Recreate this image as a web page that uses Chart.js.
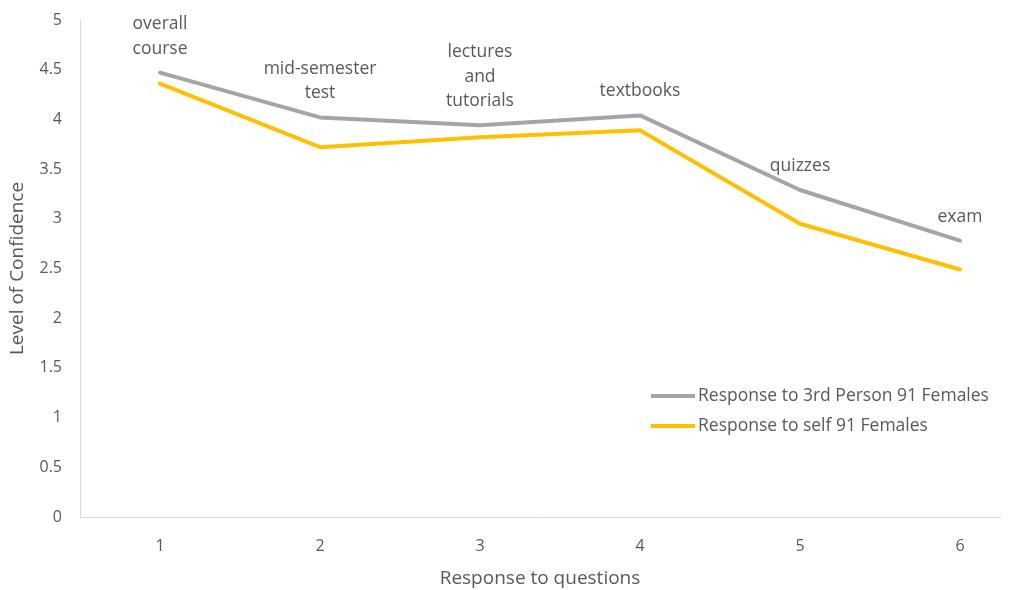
<!DOCTYPE html>
<html>
<head>
<meta charset="utf-8">
<script src="https://cdn.jsdelivr.net/npm/chart.js@4/dist/chart.umd.min.js"></script>
<style>
  html, body { margin: 0; padding: 0; background: #ffffff; }
  #wrap { width: 1011px; height: 590px; position: relative; }
</style>
</head>
<body>
<div id="wrap"><canvas id="c" width="1011" height="590"></canvas></div>
<script>
// Question number on the x axis
const questions = [1, 2, 3, 4, 5, 6];
// Labels written above each question's point
const questionLabels = [
  ["overall", "course"],
  ["mid-semester", "test"],
  ["lectures", "and", "tutorials"],
  ["textbooks"],
  ["quizzes"],
  ["exam"]
];
const thirdPersonFemales = [4.47, 4.02, 3.94, 4.04, 3.29, 2.78];
const selfFemales = [4.36, 3.72, 3.82, 3.89, 2.95, 2.49];
const yTicks = [0, 0.5, 1, 1.5, 2, 2.5, 3, 3.5, 4, 4.5, 5];
const yTickLabels = ["0", "0.5", "1", "1.5", "2", "2.5", "3", "3.5", "4", "4.5", "5"];

const seriesNames = ["Response to 3rd Person 91 Females", "Response to self 91 Females"];
const FONT = "'Open Sans', Lato, sans-serif";
const TEXT = "#595959";

const toPoints = vals => vals.map((v, i) => ({ x: questions[i], y: v }));

// Text labels above the upper series
const pointLabels = {
  id: "pointLabels",
  afterDatasetsDraw(chart) {
    const ctx = chart.ctx;
    const meta = chart.getDatasetMeta(0);
    ctx.save();
    ctx.font = "17.5px " + FONT;
    ctx.fillStyle = TEXT;
    ctx.textAlign = "center";
    ctx.textBaseline = "alphabetic";
    const lh = 24.5;
    meta.data.forEach((pt, i) => {
      const lines = questionLabels[i];
      const baseY = pt.y - 19;
      for (let k = 0; k < lines.length; k++) {
        const y = baseY - (lines.length - 1 - k) * lh;
        ctx.fillText(lines[k], pt.x, y);
      }
    });
    ctx.restore();
  }
};

// Legend drawn inside the plot area
const innerLegend = {
  id: "innerLegend",
  afterDraw(chart) {
    const ctx = chart.ctx;
    ctx.save();
    ctx.font = "17.5px " + FONT;
    ctx.fillStyle = TEXT;
    ctx.textBaseline = "middle";
    chart.data.datasets.forEach((ds, i) => {
      const y = 396 + i * 30;
      ctx.strokeStyle = ds.borderColor;
      ctx.lineWidth = 4;
      ctx.beginPath();
      ctx.moveTo(651, y);
      ctx.lineTo(695, y);
      ctx.stroke();
      ctx.fillText(ds.label, 698, y);
    });
    ctx.restore();
  }
};

new Chart(document.getElementById("c"), {
  type: "line",
  data: {
    datasets: [
      {
        label: seriesNames[0],
        data: toPoints(thirdPersonFemales),
        borderColor: "#A5A5A5",
        backgroundColor: "#A5A5A5",
        borderWidth: 4,
        pointRadius: 0,
        tension: 0,
        borderJoinStyle: "round",
        borderCapStyle: "round"
      },
      {
        label: seriesNames[1],
        data: toPoints(selfFemales),
        borderColor: "#FFC000",
        backgroundColor: "#FFC000",
        borderWidth: 4,
        pointRadius: 0,
        tension: 0,
        borderJoinStyle: "round",
        borderCapStyle: "round"
      }
    ]
  },
  options: {
    responsive: false,
    animation: false,
    layout: { padding: { top: 20, right: 11, left: 0, bottom: 0 } },
    plugins: {
      legend: { display: false },
      tooltip: { enabled: false }
    },
    scales: {
      x: {
        type: "linear",
        min: 0.5,
        max: 6.25,
        afterBuildTicks(scale) {
          scale.ticks = questions.map(v => ({ value: v }));
        },
        afterFit(scale) { scale.height = 73; },
        grid: { display: false, drawTicks: false },
        border: { display: true, color: "#D9D9D9", width: 1 },
        ticks: {
          color: TEXT,
          font: { family: FONT, size: 16 },
          padding: 20
        },
        title: {
          display: true,
          text: "Response to questions",
          color: TEXT,
          font: { family: FONT, size: 19 },
          padding: { top: 2, bottom: 0 }
        }
      },
      y: {
        min: 0,
        max: 5,
        afterBuildTicks(scale) {
          scale.ticks = yTicks.map(v => ({ value: v }));
        },
        afterFit(scale) {
          scale.width = 80;
          scale.paddingTop = 0;
          scale.paddingBottom = 0;
        },
        grid: { display: false, drawTicks: false },
        border: { display: true, color: "#D9D9D9", width: 1 },
        ticks: {
          color: TEXT,
          font: { family: FONT, size: 16 },
          padding: 18,
          callback: (v, i) => yTickLabels[i]
        },
        title: {
          display: true,
          text: "Level of Confidence",
          color: TEXT,
          font: { family: FONT, size: 19 },
          padding: { top: 6, bottom: 0 }
        }
      }
    }
  },
  plugins: [pointLabels, innerLegend]
});
</script>
</body>
</html>
